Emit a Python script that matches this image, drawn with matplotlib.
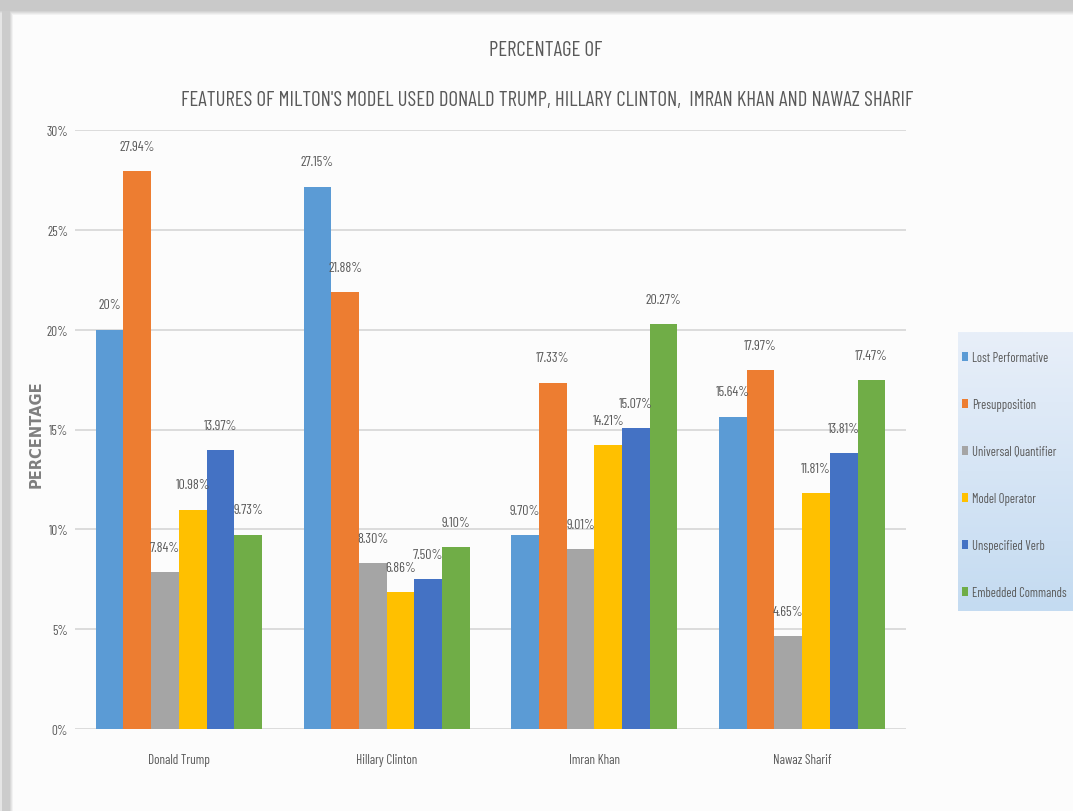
import numpy as np
import matplotlib
matplotlib.use("Agg")
import matplotlib.pyplot as plt
from matplotlib import font_manager as fm
from matplotlib.patches import Patch

# ---- data -------------------------------------------------------------
categories = ["Donald Trump", "Hillary Clinton", "Imran Khan", "Nawaz Sharif"]
series_names = ["Lost Performative", "Presupposition", "Universal Quantifier",
                "Model Operator", "Unspecified Verb", "Embedded Commands"]
lost_performative = [20.0, 27.15, 9.70, 15.64]
presupposition = [27.94, 21.88, 17.33, 17.97]
universal_quantifier = [7.84, 8.30, 9.01, 4.65]
model_operator = [10.98, 6.86, 14.21, 11.81]
unspecified_verb = [13.97, 7.50, 15.07, 13.81]
embedded_commands = [9.73, 9.10, 20.27, 17.47]
y_ticks = [0, 5, 10, 15, 20, 25, 30]

series_values = [lost_performative, presupposition, universal_quantifier,
                 model_operator, unspecified_verb, embedded_commands]
colors = ["#5B9BD5", "#ED7D31", "#A5A5A5", "#FFC000", "#4472C4", "#70AD47"]


def pick_family(candidates):
    available = {f.name for f in fm.fontManager.ttflist}
    for name in candidates:
        if name in available:
            return name
    return "DejaVu Sans"


COND = [pick_family(["Barlow Condensed", "Archivo Narrow", "Asap Condensed"]), "DejaVu Sans"]
TEXT_GRAY = "#595959"
TXT = dict(family=COND, stretch="condensed", color=TEXT_GRAY)

W, H = 1073, 812
fig = plt.figure(figsize=(W / 100, H / 100), dpi=100)

# ---- shadowed frame around the chart ---------------------------------
bg = np.ones((H, W, 3))
rows = np.arange(H)[:, None]
cols = np.arange(W)[None, :]
top = np.clip((rows - 11) / 5.0, 0, 1) * 0.2 + 0.79
left = np.clip((cols - 9) / 4.0, 0, 1) * 0.2 + 0.8
left = np.where(cols < 2, 0.9, left)
shade = np.minimum(np.broadcast_to(top, (H, W)), np.broadcast_to(left, (H, W)))
bg *= np.clip(shade, 0, 1)[:, :, None]
bg_ax = fig.add_axes([0, 0, 1, 1], zorder=-10)
bg_ax.imshow(bg, aspect="auto", extent=(0, 1, 0, 1))
bg_ax.axis("off")

# ---- plot area ---------------------------------------------------------
ax = fig.add_axes([75 / W, 1 - 730 / H, 831 / W, 599 / H])
ax.patch.set_alpha(0)

x = np.arange(len(categories))
n = len(series_values)
width = 0.8 / n


def fmt(v):
    return f"{v:.0f}%" if float(v).is_integer() else f"{v:.2f}%"


for i, (vals, c) in enumerate(zip(series_values, colors)):
    pos = x + (i - (n - 1) / 2) * width
    ax.bar(pos, vals, width, color=c, zorder=2)
    for px, v in zip(pos, vals):
        ax.annotate(fmt(v), (px, v), xytext=(0, 18), textcoords="offset points",
                    ha="center", va="center", fontsize=10, zorder=3, **TXT)

ax.set_xlim(-0.5, len(categories) - 0.5)
ax.set_ylim(0, 30)
ax.set_yticks(y_ticks)
ax.set_yticklabels([f"{t}%" for t in y_ticks], fontsize=9.5, **TXT)
ax.set_xticks(x)
ax.set_xticklabels(categories, fontsize=9.5, **TXT)
ax.tick_params(axis="y", length=0, pad=5)
ax.tick_params(axis="x", length=0, pad=17)
for s in ax.spines.values():
    s.set_visible(False)
ax.grid(axis="y", color="#D9D9D9", linewidth=1.3, zorder=0)
ax.set_axisbelow(True)

# ---- titles ------------------------------------------------------------
fig.text(546 / W, 1 - 50 / H, "PERCENTAGE OF", ha="center", va="center",
         fontsize=15, **TXT)
fig.text(547 / W, 1 - 100 / H,
         "FEATURES OF MILTON'S MODEL USED DONALD TRUMP, HILLARY CLINTON,  IMRAN KHAN AND NAWAZ SHARIF",
         ha="center", va="center", fontsize=15, **TXT)
fig.text(36 / W, 1 - 434 / H, "PERCENTAGE", rotation=90, ha="center", va="center",
         fontsize=10.5, fontweight="bold", color="#7F7F7F", family="DejaVu Sans")

# ---- legend with gradient panel ---------------------------------------
lg_ax = fig.add_axes([958 / W, 1 - 612 / H, (W - 958) / W, (612 - 333) / H], zorder=-5)
grad = np.linspace(0, 1, 100)[:, None]
top_c = np.array([232, 239, 249]) / 255
bot_c = np.array([196, 219, 241]) / 255
lg_img = top_c[None, None, :] * (1 - grad[:, :, None]) + bot_c[None, None, :] * grad[:, :, None]
lg_ax.imshow(np.repeat(lg_img, 10, axis=1), aspect="auto", extent=(0, 1, 0, 1))
lg_ax.axis("off")

handles = [Patch(facecolor=c, edgecolor="none") for c in colors]
fig.legend(handles, series_names, loc="upper left",
           bbox_to_anchor=(962 / W, 1 - 352 / H), frameon=False,
           prop={"family": COND, "stretch": "condensed", "size": 9},
           labelcolor=TEXT_GRAY,
           labelspacing=2.72, handlelength=0.5, handleheight=0.8,
           handletextpad=0.3, borderaxespad=0, borderpad=0)

fig.savefig("out.png", dpi=100)
